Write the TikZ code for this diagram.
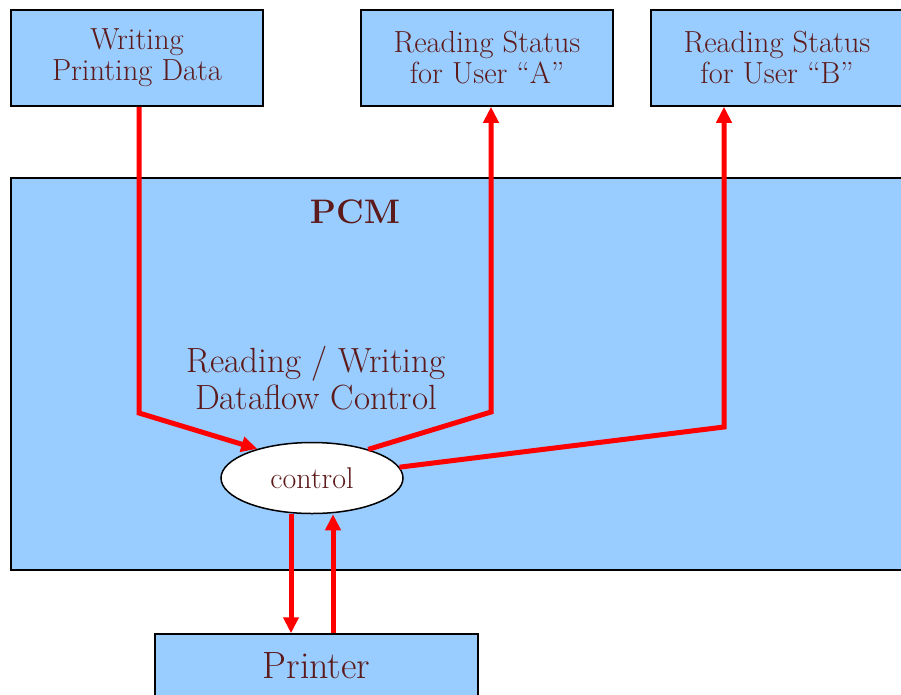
\documentclass[tikz,border=0pt]{standalone}
\usetikzlibrary{calc}
\usetikzlibrary{shapes,arrows.meta}
\definecolor{boxblue}{HTML}{99CCFF}
\definecolor{txtred}{HTML}{5C1A1A}
\tikzset{
  box/.style={draw=black, line width=1.5pt, fill=boxblue, text=txtred,
    align=center, inner sep=0pt},
  flow/.style={draw=red, line width=5pt, line join=miter},
  tip/.style={-{Triangle[length=16pt,width=15pt]}}
}

\begin{document}
\begin{tikzpicture}[x=1pt,y=-1pt]
    \useasboundingbox (0,0) rectangle (901,694);
    \clip (0,0) rectangle (901,694);

    \node [box, minimum width=899pt, minimum height=392pt] (pcm) at (460.5,374) {};
    \node [text=txtred, font=\fontsize{34}{38}\selectfont\bfseries] (pcmlabel) at (355,212) {PCM};
    \node [text=txtred, align=center, font=\fontsize{35}{37}\selectfont] (dfc) at (316,378)
      {Reading / Writing\\Dataflow Control};

    \node [box, minimum width=252pt, minimum height=96pt, font=\fontsize{30.5}{31}\selectfont] (wr) at (137,58)
      {Writing\\Printing Data};
    \node [box, minimum width=252pt, minimum height=96pt, font=\fontsize{30.5}{31}\selectfont] (ra) at (487,58)
      {Reading Status\\for User ``A''};
    \node [box, minimum width=252pt, minimum height=96pt, font=\fontsize{30.5}{31}\selectfont] (rb) at (777,58)
      {Reading Status\\for User ``B''};

    \node [ellipse, draw=black, line width=1.5pt, fill=white, text=txtred,
      minimum width=182pt, minimum height=71pt, inner sep=0pt,
      font=\fontsize{30}{34}\selectfont] (ctrl) at (312,478) {control};

    \node [box, minimum width=323pt, minimum height=64pt, font=\fontsize{38}{42}\selectfont] (prn) at (316.5,666)
      {Printer};

    \coordinate (W1) at (139,413);
    \coordinate (A1) at (491,412);
    \coordinate (B1) at (724,427);
    \coordinate (P1) at (291,0);
    \coordinate (P2) at (333,0);

    \draw [flow, tip] (W1 |- wr.south) -- (W1) -- (ctrl.152);
    \draw [flow, tip] (ctrl.27) -- (A1) -- (A1 |- ra.south);
    \draw [flow, tip] (ctrl) -- (B1) -- (B1 |- rb.south);
    \draw [flow, tip] (P1 |- ctrl.south) -- (P1 |- prn.north);
    \draw [flow, tip] (P2 |- prn.north) -- (P2 |- ctrl.south);
\end{tikzpicture}
\end{document}
